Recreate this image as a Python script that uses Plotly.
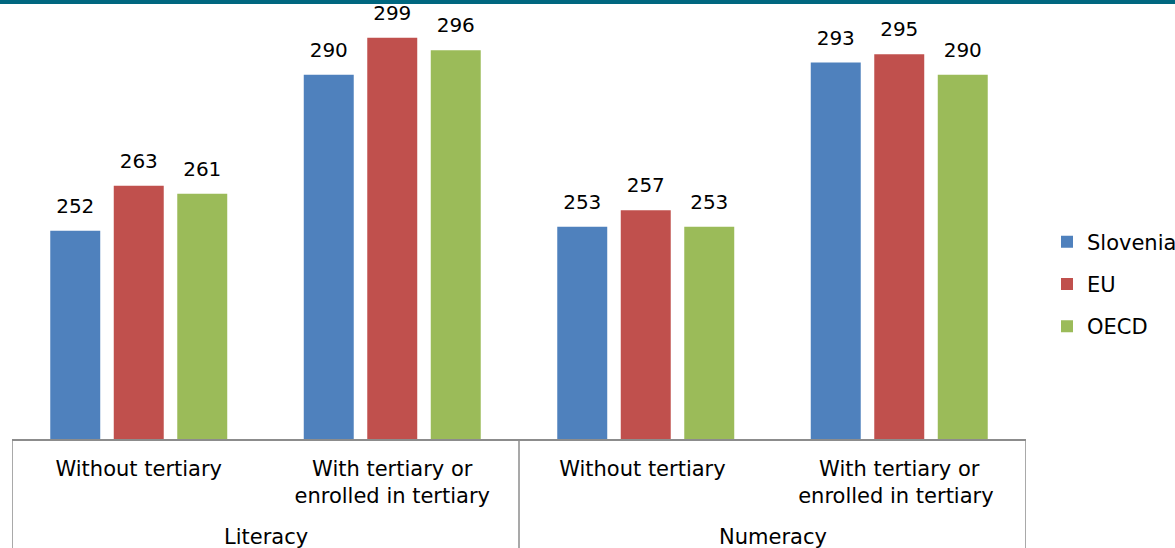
import plotly.graph_objects as go

categories = ["Without tertiary", "With tertiary or<br>enrolled in tertiary",
              "Without tertiary ", "With tertiary or<br>enrolled in tertiary "]
groups = ["Literacy", "Numeracy"]
series = ["Slovenia", "EU", "OECD"]
slovenia = [252, 290, 253, 293]
eu = [263, 299, 257, 295]
oecd = [261, 296, 253, 290]
values = [slovenia, eu, oecd]
colors = ["#4F81BD", "#C0504D", "#9BBB59"]

FONT = "DejaVu Sans"
W, H = 1175, 548
ml, mr, mt, mb = 12, 149, 0, 109
ph = H - mt - mb
pw = W - ml - mr

fig = go.Figure()
for name, vals, col in zip(series, values, colors):
    fig.add_trace(go.Bar(
        x=categories, y=vals, name=name, marker_color=col,
        marker_line_width=0, legendgroup=name, hoverinfo="x+y+name",
    ))
for name, vals in zip(series, values):
    fig.add_trace(go.Scatter(
        x=categories, y=vals, mode="markers+text", text=[str(v) for v in vals],
        textposition="top center", textfont=dict(family=FONT, size=20, color="black"),
        marker=dict(size=19, color="rgba(0,0,0,0)"), showlegend=False,
        hoverinfo="skip", cliponaxis=False,
    ))

line_col = "#8C8C8C"
# box lines under the category axis
for xb in [-0.5, 1.5, 3.5]:
    fig.add_shape(type="line", xref="x", yref="paper", x0=xb, x1=xb, y0=0, y1=-mb / ph,
                  line=dict(color=line_col, width=1.5))
# group labels
for i, g in enumerate(groups):
    fig.add_annotation(x=2 * i + 0.5, xref="x", y=-(537 - 439) / ph, yref="paper",
                       text=g, showarrow=False, font=dict(family=FONT, size=21, color="black"),
                       yanchor="middle")
# teal header band
fig.add_shape(type="rect", xref="paper", yref="paper", x0=-0.05, x1=1.2,
              y0=1 - 4 / ph, y1=1.02, fillcolor="#00677F", line_width=0, layer="above")

fig.update_layout(
    width=W, height=H, margin=dict(l=ml, r=mr, t=mt, b=mb, autoexpand=False),
    paper_bgcolor="white", plot_bgcolor="white",
    barmode="group", bargap=0.2485, bargroupgap=0.213,
    scattermode="group", scattergap=0.2485,
    font=dict(family=FONT, size=21, color="black"),
    showlegend=True,
    legend=dict(x=(1047 - ml) / pw, xanchor="left", y=1 - 284 / ph, yanchor="middle",
                font=dict(family=FONT, size=21, color="black"),
                traceorder="grouped", tracegroupgap=12, bgcolor="rgba(0,0,0,0)"),
    xaxis=dict(type="category", showline=True, linecolor=line_col, linewidth=1.5,
               ticks="", showgrid=False, tickfont=dict(family=FONT, size=21, color="black"),
               ticklabelstandoff=10, range=[-0.5, 3.5]),
    yaxis=dict(range=[201.3, 201.3 + ph / 4.106], showgrid=False, showline=False,
               showticklabels=False, ticks="", zeroline=False),
)

fig.write_html("out.html", config={"displayModeBar": False},
               post_script="document.body.style.margin='0';document.body.style.overflow='hidden';")
